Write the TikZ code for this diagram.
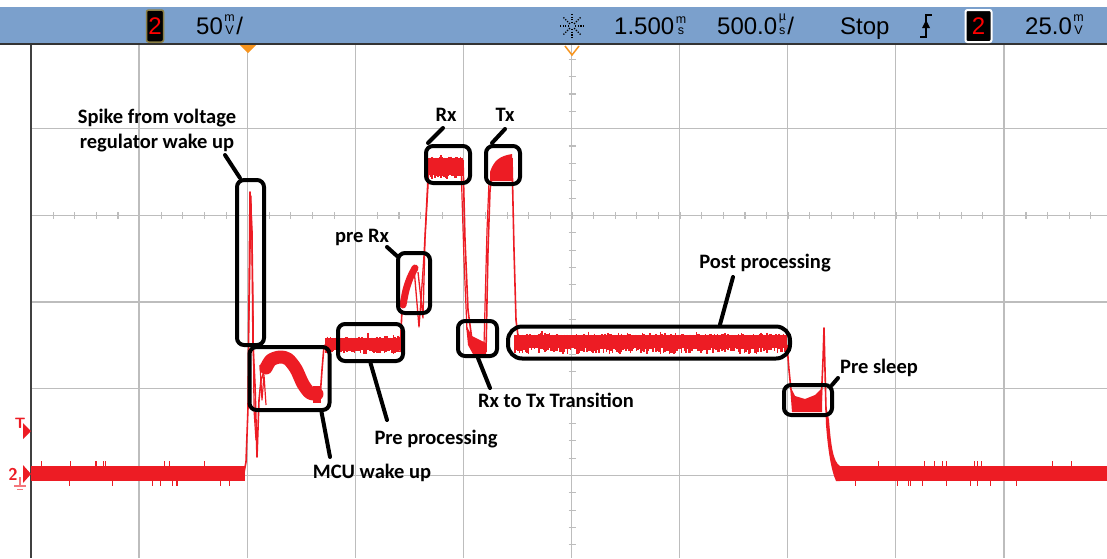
\documentclass[tikz,border=0pt]{standalone}
\usepackage{fontspec}
\setmainfont{Carlito}
\newfontfamily\scopefont{Liberation Sans}
\usetikzlibrary{calc}
\definecolor{barblue}{HTML}{7BA0CC}
\definecolor{wave}{HTML}{ED1C24}
\definecolor{gridc}{HTML}{BDBDBD}
\definecolor{orng}{HTML}{F7941D}
\definecolor{goldb}{HTML}{8A7E45}
\newcommand\nband[6]{%
  \pgfmathtruncatemacro\nn{(#2-#1)/1.5}%
  \foreach \i in {0,...,\nn}{%
    \pgfmathsetmacro\xx{#1+1.5*\i}%
    \pgfmathsetmacro\ta{#3-#5*rnd*rnd*rnd}%
    \pgfmathsetmacro\tb{#4+#6*(2*rnd-1)}%
    \draw[wave, line width=1.7pt] (\xx,\ta) -- (\xx,\tb);
  }}
\newcommand\sparse[5]{% x0 x1 ytop ybot count
  \foreach \i in {1,...,#5}{%
    \pgfmathsetmacro\xa{#1+(#2-#1)*rnd}%
    \pgfmathsetmacro\xb{#1+(#2-#1)*rnd}%
    \draw[wave, line width=1pt] (\xa,#3) -- (\xa,{#3-5});
    \draw[wave, line width=1pt] (\xb,#4) -- (\xb,{#4+5});
  }}
\newcommand\stk[2]{\kern1.5pt{\fontsize{12.5}{10}\selectfont\shortstack{#1\\[1pt]#2}}\kern1.5pt}
\begin{document}
\begin{tikzpicture}[x=1pt,y=-1pt,
  box/.style={draw=black, line width=4pt, rounded corners=7pt, inner sep=0pt},
  call/.style={draw=black, line width=4pt, line cap=round},
  lbl/.style={font=\fontsize{20.5}{25}\selectfont\bfseries, inner sep=0pt, align=center},
  sig/.style={draw=wave, line width=1.6pt, line join=round},
  hdr/.style={font=\scopefont\fontsize{24}{24}\selectfont, inner sep=0pt, anchor=base west},
  gridl/.style={draw=gridc, line width=1.3pt},
  tick/.style={draw=gridc, line width=1.1pt}
]
\useasboundingbox (0,0) rectangle (1107,558);
\fill[white] (0,0) rectangle (1107,558);
\pgfmathsetseed{11}
% ---------- grid ----------
\foreach \k in {1,...,9} \draw[gridl] ({31+108.1*\k},45) -- ({31+108.1*\k},558);
\foreach \k in {1,...,5} \draw[gridl] (31,{42+86.7*\k}) -- (1107,{42+86.7*\k});
\foreach \k in {-25,...,24} \draw[tick] ({572+21.62*\k},212) -- ({572+21.62*\k},219);
\foreach \k in {-9,...,19} \draw[tick] (568.5,{215.4+17.34*\k}) -- (575.5,{215.4+17.34*\k});
\draw[black!75, line width=1.3pt] (31,44) -- (31,558);
% ---------- header bar ----------
\fill[barblue] (0,7) rectangle (1107,43);
\draw[line width=2pt, black!80] (0,44) -- (1107,44);
\node[draw=goldb, fill=black, line width=1.5pt, rounded corners=2pt, minimum width=17pt, minimum height=32pt, inner sep=0pt, font=\scopefont\fontsize{24}{24}\selectfont, text=red] (ch1) at (155,26) {2};
\node[hdr] (vdiv) at (196,34) {50\stk{m}{V}/};
\foreach \a in {0,45,...,315} \draw[black, line width=1.2pt, dash pattern=on 1.3pt off 1.3pt] (572,26) ++(\a:3) -- ++(\a:10);
\node[hdr] (tpos) at (614,34) {1.500\stk{m}{s}};
\node[hdr] (tdiv) at (717,34) {500.0\stk{µ}{s}/};
\node[hdr] (stop) at (840,34) {Stop};
\draw[black, line width=1.6pt] (920,37) -- (926,37) -- (926,15) -- (932,15);
\fill[black] (926,20) -- (922,28) -- (930,28) -- cycle;
\node[draw=white, fill=black, line width=2pt, rounded corners=2pt, minimum width=26pt, minimum height=32pt, inner sep=0pt, font=\scopefont\fontsize{24}{24}\selectfont, text=red] (ch2) at (978.5,26) {2};
\node[hdr] (tlev) at (1025,34) {25.0\stk{m}{V}};
% trigger markers
\fill[orng] (240,45) -- (256,45) -- (248,53) -- cycle;
\draw[orng, line width=1.5pt] (565,46) -- (572,55) -- (579,46);
% left markers
\node[text=wave, font=\sffamily\bfseries\fontsize{15}{15}\selectfont, inner sep=0pt] (tmark) at (20,423) {T};
\fill[wave] (23,423) -- (31,431) -- (23,439) -- cycle;
\node[text=wave, font=\sffamily\bfseries\fontsize{17}{17}\selectfont, inner sep=0pt] (chmark) at (13,474) {2};
\fill[wave] (23,465) -- (31,474) -- (23,483) -- cycle;
\draw[wave!60, line width=1.2pt] (20,477) -- (20,486) (14,486) -- (26,486) (17,489.5) -- (23,489.5);
% ---------- waveform ----------
\fill[wave] (31,466) rectangle (245,481);
\sparse{33}{240}{466}{481}{9}
\draw[sig] (243,478) -- (246,462) -- (248,408) -- (250,192) -- (252,232) -- (253,345) -- (255,385) -- (257,457) -- (259,400) -- (261,380) -- (264,372);
\draw[sig, line width=1.2pt] (249,320) -- (251,196) -- (253,300) -- (254,410) -- (256,440);
\draw[sig, line width=1.2pt] (260,365) -- (262,400) -- (264,375) -- (266,405);
\draw[wave, line width=13pt, line join=round, line cap=round] plot[smooth] coordinates {(266,368) (271,360) (280,357) (288,359) (296,369) (303,384) (310,393) (317,394)};
\fill[wave] (313,386) rectangle (321,403);
\draw[sig] (320,398) -- (322,370) -- (324,346) -- (328,343);
\nband{326}{401}{338}{352}{6}{2}
\draw[sig] (400,352) -- (402,310);
\draw[wave, line width=7pt, line cap=round] plot[smooth] coordinates {(403,305) (406,290) (410,278) (415,268)};
\draw[sig, line width=1.3pt] (414,268) -- (419,327) -- (421,300) -- (424,255) -- (428,176);
\draw[sig, line width=1.3pt] (418,272) -- (423,318) -- (425,240) -- (429,168);
\nband{429}{463}{158}{177}{6}{2}
\draw[sig] (463,160) -- (465,240) -- (468,310) -- (472,340);
\draw[sig, line width=1.2pt] (461,165) -- (464,260) -- (467,330);
\fill[wave] (466,325) -- (472,336) -- (486,343) -- (486,356) -- (474,356) -- (468,345) -- cycle;
\draw[sig] (486,352) -- (488,250) -- (490,190) -- (492,175);
\draw[sig, line width=1.2pt] (484,345) -- (487,230) -- (489,182);
\fill[wave] (490,181) -- (490,172) .. controls (494,160) and (500,156) .. (512,154) -- (513,181) -- cycle;
\draw[sig] (512,158) -- (514,250) -- (516,320) -- (518,336);
\nband{515}{787}{335}{351}{5}{3}
\draw[sig] (787,345) -- (789,370) -- (791,390);
\fill[wave] (790,386) -- (795,396) -- (805,399) -- (815,395) -- (822,388) -- (822,412) -- (792,412) -- cycle;
\draw[sig] (821,405) -- (823,360) -- (824,328) -- (825,370) -- (826,410);
\fill[wave] (825,400) -- (829,420) .. controls (831,445) and (833,462) .. (840,466) -- (840,481) -- (836,481) .. controls (831,470) and (828,450) .. (826,425) -- cycle;
\fill[wave] (838,466) rectangle (1107,481);
\sparse{840}{1105}{466}{481}{10}
% ---------- boxes ----------
\node[box, minimum width=27pt, minimum height=165pt] (bSpike) at (250.5,262.5) {};
\node[box, minimum width=80pt, minimum height=63pt] (bMCU) at (289.5,378.5) {};
\node[box, minimum width=65pt, minimum height=37pt] (bPre) at (370.5,342.5) {};
\node[box, minimum width=32pt, minimum height=60pt] (bPreRx) at (414,283) {};
\node[box, minimum width=44pt, minimum height=37pt] (bRx) at (448,164.5) {};
\node[box, minimum width=34pt, minimum height=38pt] (bTx) at (503,165) {};
\node[box, minimum width=39pt, minimum height=35pt] (bTr) at (477.5,338.5) {};
\node[box, rounded corners=14pt, minimum width=282pt, minimum height=32pt] (bPost) at (649,342.5) {};
\node[box, minimum width=48pt, minimum height=30pt] (bSleep) at (808,400) {};
% ---------- labels ----------
\node[lbl] (lSpike) at (157,130.5) {Spike from voltage\\regulator wake up};
\node[lbl] (lPreRx) at (362,237) {pre Rx};
\node[lbl] (lRx) at (446,115) {Rx};
\node[lbl] (lTx) at (505,115) {Tx};
\node[lbl] (lPost) at (765,263) {Post processing};
\node[lbl] (lSleep) at (879,368) {Pre sleep};
\node[lbl] (lTr) at (556,400) {Rx to Tx Transition};
\node[lbl] (lPre) at (436,439) {Pre processing};
\node[lbl] (lMCU) at (372,473) {MCU wake up};
% ---------- callouts ----------
\coordinate (cSpike) at (225,155);
\coordinate (cPreRx) at (387,247);
\coordinate (cRx) at (443,128);
\coordinate (cTx) at (505,129);
\coordinate (cPost) at (733,277);
\coordinate (cSleep) at (838,378);
\coordinate (cTr) at (490,388);
\coordinate (cPre) at (387,420);
\coordinate (cMCU) at (330,457);
\draw[call] (cSpike) -- ($(bSpike.north west)+(5,0)$);
\draw[call] (cPreRx) -- ($(bPreRx.north west)+(1,5)$);
\draw[call] (cRx) -- ($(bRx.north west)+(4,-1)$);
\draw[call] (cTx) -- ($(bTx.north west)+(8,-1)$);
\draw[call] (cPost) -- ($(bPost.north)+(71,0)$);
\draw[call] (cSleep) -- ($(bSleep.north east)+(-2,2)$);
\draw[call] (cTr) -- ($(bTr.south)+(0.5,0)$);
\draw[call] (cPre) -- ($(bPre.south)+(0,0)$);
\draw[call] (cMCU) -- ($(bMCU.south)+(32,0)$);
\end{tikzpicture}
\end{document}
